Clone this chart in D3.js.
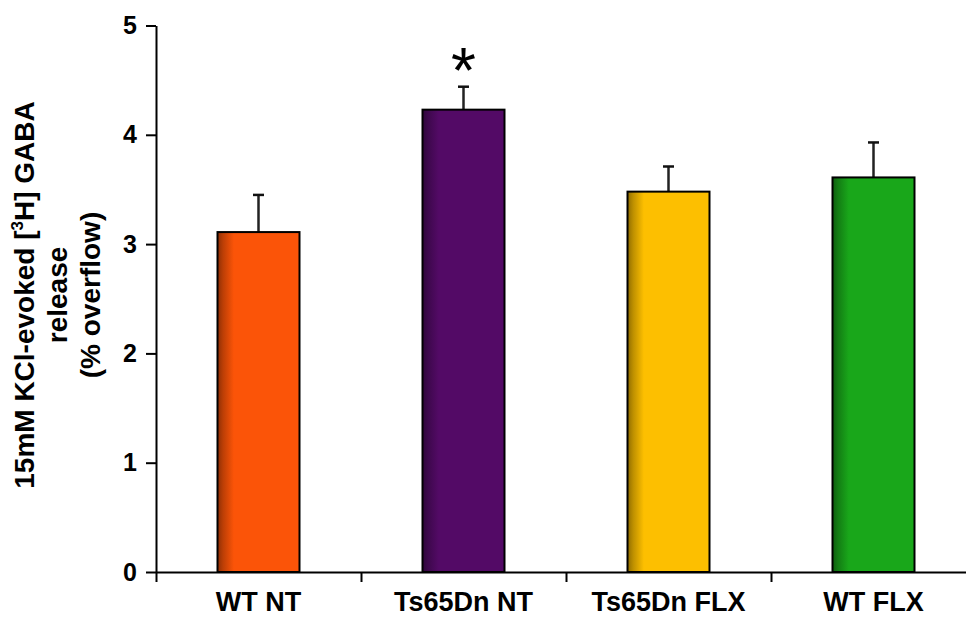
<!DOCTYPE html>
<html>
<head>
<meta charset="utf-8">
<script src="https://cdn.jsdelivr.net/npm/d3@7"></script>
<style>
  html, body { margin: 0; padding: 0; background: #fff; }
  svg { display: block; }
  text { font-family: "Liberation Sans", Arial, sans-serif; fill: #000; }
</style>
</head>
<body>
<svg id="chart" width="966" height="618"></svg>
<script>
// Groups, mean release and upward SEM
const categories = ["WT NT", "Ts65Dn NT", "Ts65Dn FLX", "WT FLX"];
const means = [3.11, 4.23, 3.48, 3.61];
const errors = [0.34, 0.21, 0.23, 0.32];
const significant = [false, true, false, false];
const barColors = ["#fb5408", "#530a66", "#fdbf00", "#19a71a"];
const yTicks = [0, 1, 2, 3, 4, 5];
const titleLines = ["15mM KCl-evoked [", "release", "(% overflow)"];

const svg = d3.select("#chart");
const plotLeft = 156, plotRight = 976, plotTop = 25.5, plotBottom = 572;

const y = d3.scaleLinear().domain([0, 5]).range([plotBottom, plotTop]);
const x = d3.scaleBand().domain(categories).range([plotLeft, plotRight]);
const xEdges = d3.scaleLinear().domain([0, categories.length]).range([plotLeft, plotRight]);
const barW = x.bandwidth() * 0.4;

// Left-edge shading on each bar
const defs = svg.append("defs");
barColors.forEach((c, i) => {
  const g = defs.append("linearGradient")
    .attr("id", "shade" + i)
    .attr("x1", "0%").attr("x2", "100%").attr("y1", "0%").attr("y2", "0%");
  g.append("stop").attr("offset", "0%").attr("stop-color", d3.color(c).darker(1.6));
  g.append("stop").attr("offset", "7%").attr("stop-color", d3.color(c).darker(0.8));
  g.append("stop").attr("offset", "20%").attr("stop-color", c);
  g.append("stop").attr("offset", "100%").attr("stop-color", c);
});

const data = categories.map((c, i) => ({ c, v: means[i], e: errors[i], sig: significant[i], i }));

// Error bars (upper half only)
const err = svg.append("g");
err.selectAll("line.stem").data(data).join("line")
  .attr("class", "stem")
  .attr("x1", d => x(d.c) + x.bandwidth() / 2)
  .attr("x2", d => x(d.c) + x.bandwidth() / 2)
  .attr("y1", d => y(d.v))
  .attr("y2", d => y(d.v + d.e))
  .attr("stroke", "#222").attr("stroke-width", 2.5);
err.selectAll("line.cap").data(data).join("line")
  .attr("class", "cap")
  .attr("x1", d => x(d.c) + x.bandwidth() / 2 - 5.5)
  .attr("x2", d => x(d.c) + x.bandwidth() / 2 + 5.5)
  .attr("y1", d => y(d.v + d.e))
  .attr("y2", d => y(d.v + d.e))
  .attr("stroke", "#111").attr("stroke-width", 2.5);

// Bars
svg.append("g").selectAll("rect").data(data).join("rect")
  .attr("x", d => x(d.c) + (x.bandwidth() - barW) / 2)
  .attr("y", d => y(d.v))
  .attr("width", barW)
  .attr("height", d => y(0) - y(d.v))
  .attr("fill", d => `url(#shade${d.i})`)
  .attr("stroke", "#000").attr("stroke-width", 2);

// Significance marker
svg.append("g").selectAll("text").data(data.filter(d => d.sig)).join("text")
  .attr("x", d => x(d.c) + x.bandwidth() / 2)
  .attr("y", d => y(d.v + d.e) + 6)
  .attr("text-anchor", "middle")
  .attr("font-size", 64)
  .text("*");

// Y axis
const yAxis = svg.append("g")
  .attr("transform", `translate(${plotLeft},0)`)
  .call(d3.axisLeft(y).tickValues(yTicks).tickFormat(d3.format("d"))
    .tickSize(10).tickSizeOuter(0).tickPadding(9));
yAxis.select(".domain").attr("stroke-width", 2);
yAxis.selectAll(".tick line").attr("stroke-width", 2);
yAxis.selectAll(".tick text")
  .attr("font-size", 25).attr("font-weight", "bold")
  .attr("font-family", "Liberation Sans, Arial, sans-serif");

// X axis: boundary ticks between groups
const xTickAxis = svg.append("g")
  .attr("transform", `translate(0,${plotBottom})`)
  .call(d3.axisBottom(xEdges).ticks(categories.length).tickFormat("")
    .tickSize(10).tickSizeOuter(0));
xTickAxis.select(".domain").attr("stroke-width", 2);
xTickAxis.selectAll(".tick line").attr("stroke-width", 2);

// X axis: group labels
const xLabelAxis = svg.append("g")
  .attr("transform", `translate(0,${plotBottom})`)
  .call(d3.axisBottom(x).tickSize(0).tickPadding(20));
xLabelAxis.select(".domain").remove();
xLabelAxis.selectAll(".tick text")
  .attr("font-size", 27).attr("font-weight", "bold")
  .attr("font-family", "Liberation Sans, Arial, sans-serif");

// Y axis title
const title = svg.append("text")
  .attr("transform", "translate(0,295) rotate(-90)")
  .attr("text-anchor", "middle")
  .attr("font-size", 28).attr("font-weight", "bold");
const l1 = title.append("tspan").attr("x", 0).attr("y", 34);
l1.append("tspan").text(titleLines[0]);
l1.append("tspan").attr("font-size", 17).attr("dy", -11).text("3");
l1.append("tspan").attr("dy", 11).text("H] GABA");
title.append("tspan").attr("x", 0).attr("y", 67).text(titleLines[1]);
title.append("tspan").attr("x", 0).attr("y", 100).text(titleLines[2]);
</script>
</body>
</html>
